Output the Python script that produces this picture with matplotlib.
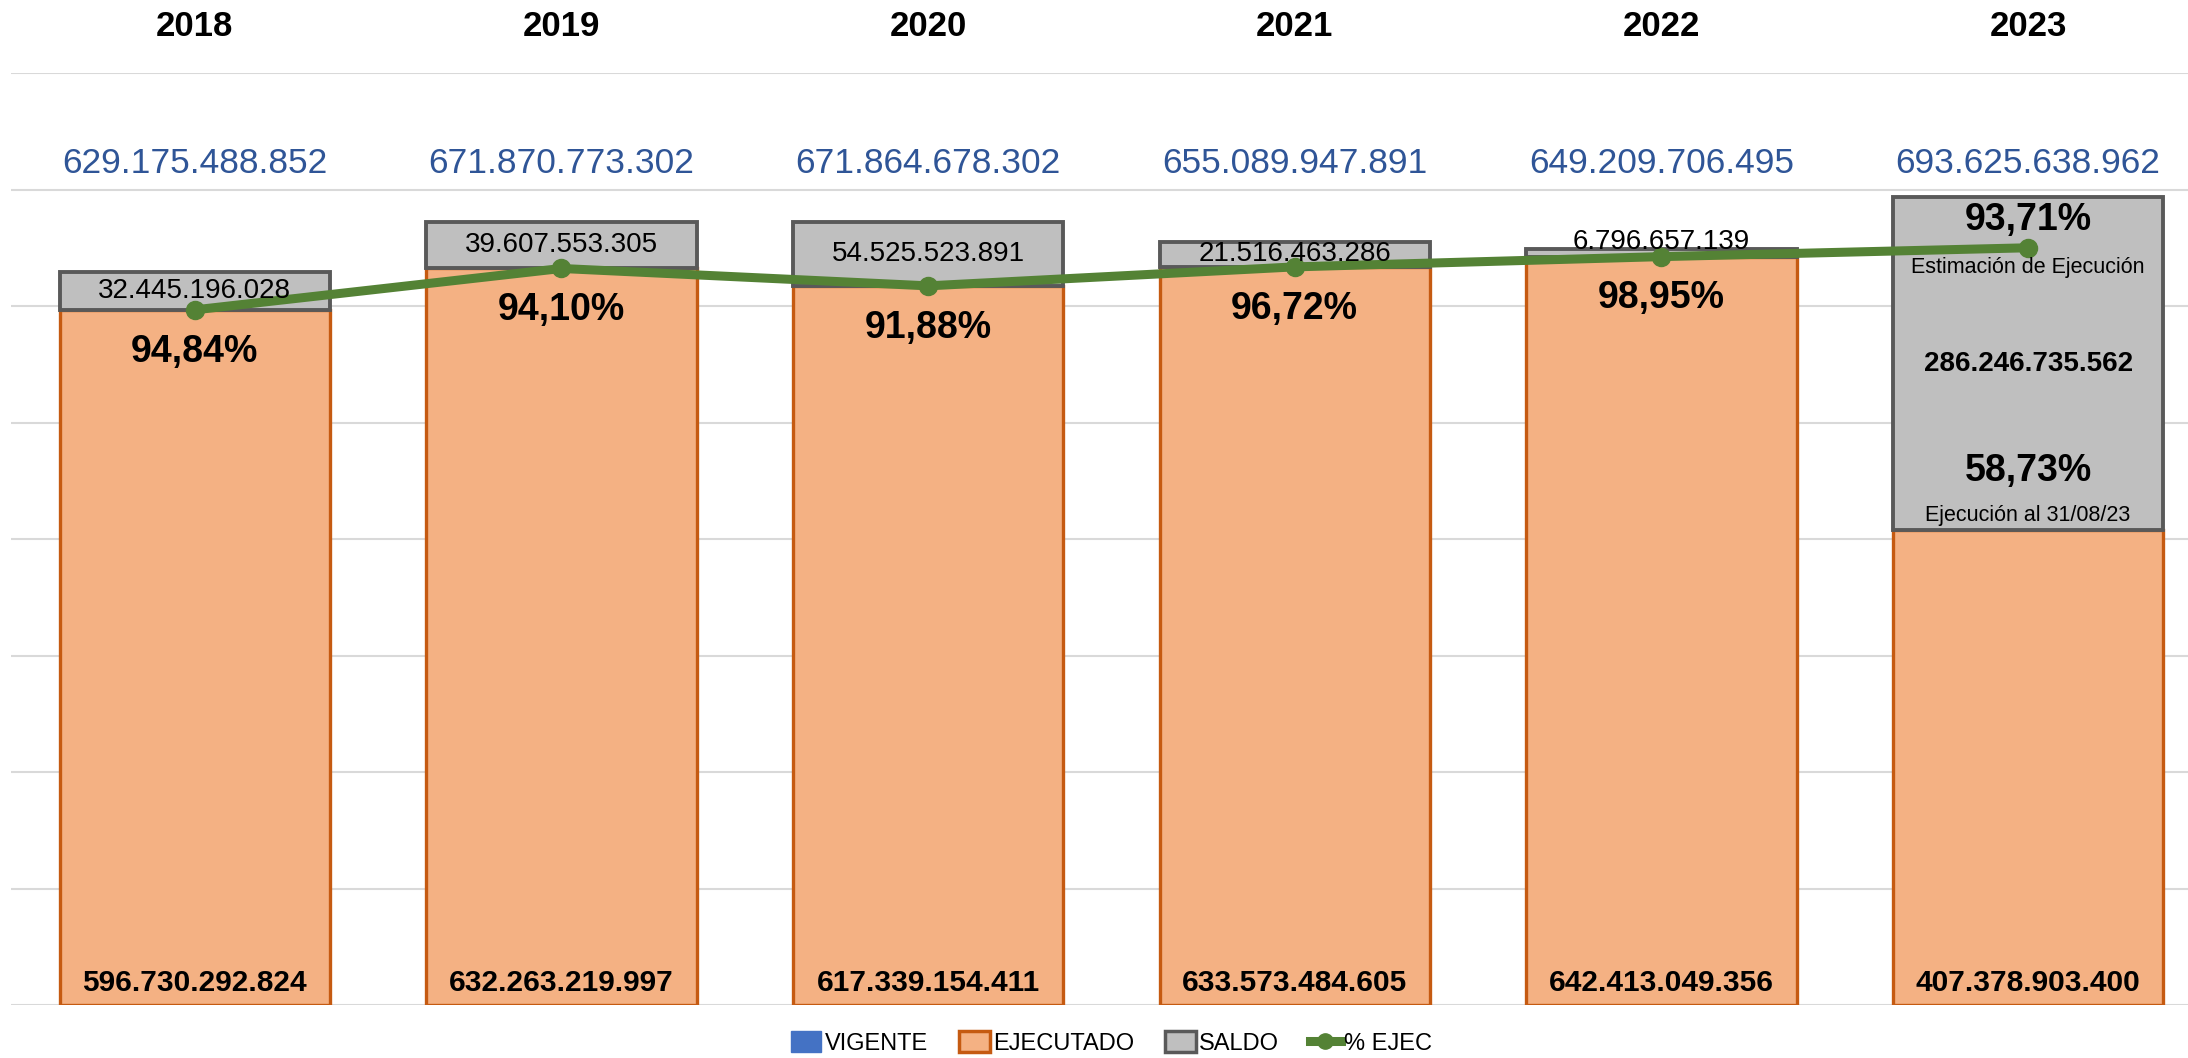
import numpy as np
import matplotlib.pyplot as plt
from matplotlib.lines import Line2D
from matplotlib.patches import Patch

years = ["2018", "2019", "2020", "2021", "2022", "2023"]
vigente = [629175488852, 671870773302, 671864678302, 655089947891, 649209706495, 693625638962]
ejecutado = [596730292824, 632263219997, 617339154411, 633573484605, 642413049356, 407378903400]
saldo = [32445196028, 39607553305, 54525523891, 21516463286, 6796657139, 286246735562]
pct_ejec = [94.84, 94.10, 91.88, 96.72, 98.95, 93.71]   # 2023 = estimación
pct_real_2023 = 58.73

plt.rcParams["font.family"] = ["Liberation Sans", "DejaVu Sans"]

c_vig = "#4472C4"
c_ejec = "#F4B183"
c_ejec_edge = "#C55A11"
c_saldo = "#BFBFBF"
c_saldo_edge = "#595959"
c_line = "#548235"
c_blue_txt = "#2F5597"


def fmt_num(v):
    return f"{v:,}".replace(",", ".")


def fmt_pct(p):
    return f"{p:.2f}".replace(".", ",") + "%"


fig = plt.figure(figsize=(21.88, 10.58), dpi=100)
ax = fig.add_axes([0.0052, 0.05, 1.0055, 0.881])

x = np.arange(len(years))
vig = np.array(vigente) / 1e9
eje = np.array(ejecutado) / 1e9
sal = np.array(saldo) / 1e9
line_y = vig * np.array(pct_ejec) / 100

w = 0.737
ax.bar(x, eje, w, color=c_ejec, edgecolor=c_ejec_edge, linewidth=2.4, zorder=2)
ax.bar(x, sal, w, bottom=eje, color=c_saldo, edgecolor=c_saldo_edge, linewidth=2.8, zorder=2)
ax.plot(x, line_y, color=c_line, lw=6.5, marker="o", ms=13, zorder=4)

ax.set_xlim(-0.5, len(years) - 0.5)
ax.set_ylim(0, 800)
ax.set_yticks(np.arange(0, 801, 100))
ax.yaxis.grid(True, color="#D9D9D9", lw=1.5, zorder=0)
ax.set_axisbelow(True)
ax.tick_params(left=False, bottom=False, labelleft=False, labelbottom=False)
for s in ax.spines.values():
    s.set_visible(False)

for i, yr in enumerate(years):
    ax.text(x[i], 840, yr, ha="center", va="center", fontsize=25, fontweight="bold", clip_on=False)
    ax.text(x[i], 722, fmt_num(vigente[i]), ha="center", va="center", fontsize=25.5, color=c_blue_txt)
    ax.text(x[i], 19, fmt_num(ejecutado[i]), ha="center", va="center", fontsize=21.5, fontweight="bold", zorder=5)
    if i < len(years) - 1:
        ym = eje[i] + sal[i] / 2
        if sal[i] < 15:
            ym += 9
        ax.text(x[i], ym, fmt_num(saldo[i]), ha="center", va="center", fontsize=20, zorder=5)
        ax.annotate(fmt_pct(pct_ejec[i]), (x[i], line_y[i]), xytext=(0, -30), textcoords="offset points",
                    ha="center", va="center", fontsize=27, fontweight="bold", zorder=5)
    else:
        ax.annotate(fmt_pct(pct_ejec[i]), (x[i], line_y[i]), xytext=(0, 20), textcoords="offset points",
                    ha="center", va="center", fontsize=27, fontweight="bold", zorder=5)
        ax.annotate("Estimación de Ejecución", (x[i], line_y[i]), xytext=(0, -14), textcoords="offset points",
                    ha="center", va="center", fontsize=15.5, zorder=5)
        ax.text(x[i], eje[i] + sal[i] / 2, fmt_num(saldo[i]), ha="center", va="center",
                fontsize=20, fontweight="bold", zorder=5)
        ax.annotate(fmt_pct(pct_real_2023), (x[i], eje[i]), xytext=(0, 43), textcoords="offset points",
                    ha="center", va="center", fontsize=27, fontweight="bold", zorder=5)
        ax.annotate("Ejecución al 31/08/23", (x[i], eje[i]), xytext=(0, 11), textcoords="offset points",
                    ha="center", va="center", fontsize=15.5, zorder=5)

handles = [
    Patch(facecolor=c_vig, edgecolor=c_vig),
    Patch(facecolor=c_ejec, edgecolor=c_ejec_edge, linewidth=2.5),
    Patch(facecolor=c_saldo, edgecolor=c_saldo_edge, linewidth=2.5),
    Line2D([0], [0], color=c_line, lw=6.5, marker="o", ms=11),
]
labels = ["VIGENTE", "EJECUTADO", "SALDO", "% EJEC"]
fig.legend(handles, labels, loc="center", bbox_to_anchor=(0.508, 0.014), ncol=4, frameon=False,
           fontsize=17, handlelength=1.3, handleheight=1.0, handletextpad=0.15, columnspacing=1.3)

fig.savefig("out.png", dpi=100)
